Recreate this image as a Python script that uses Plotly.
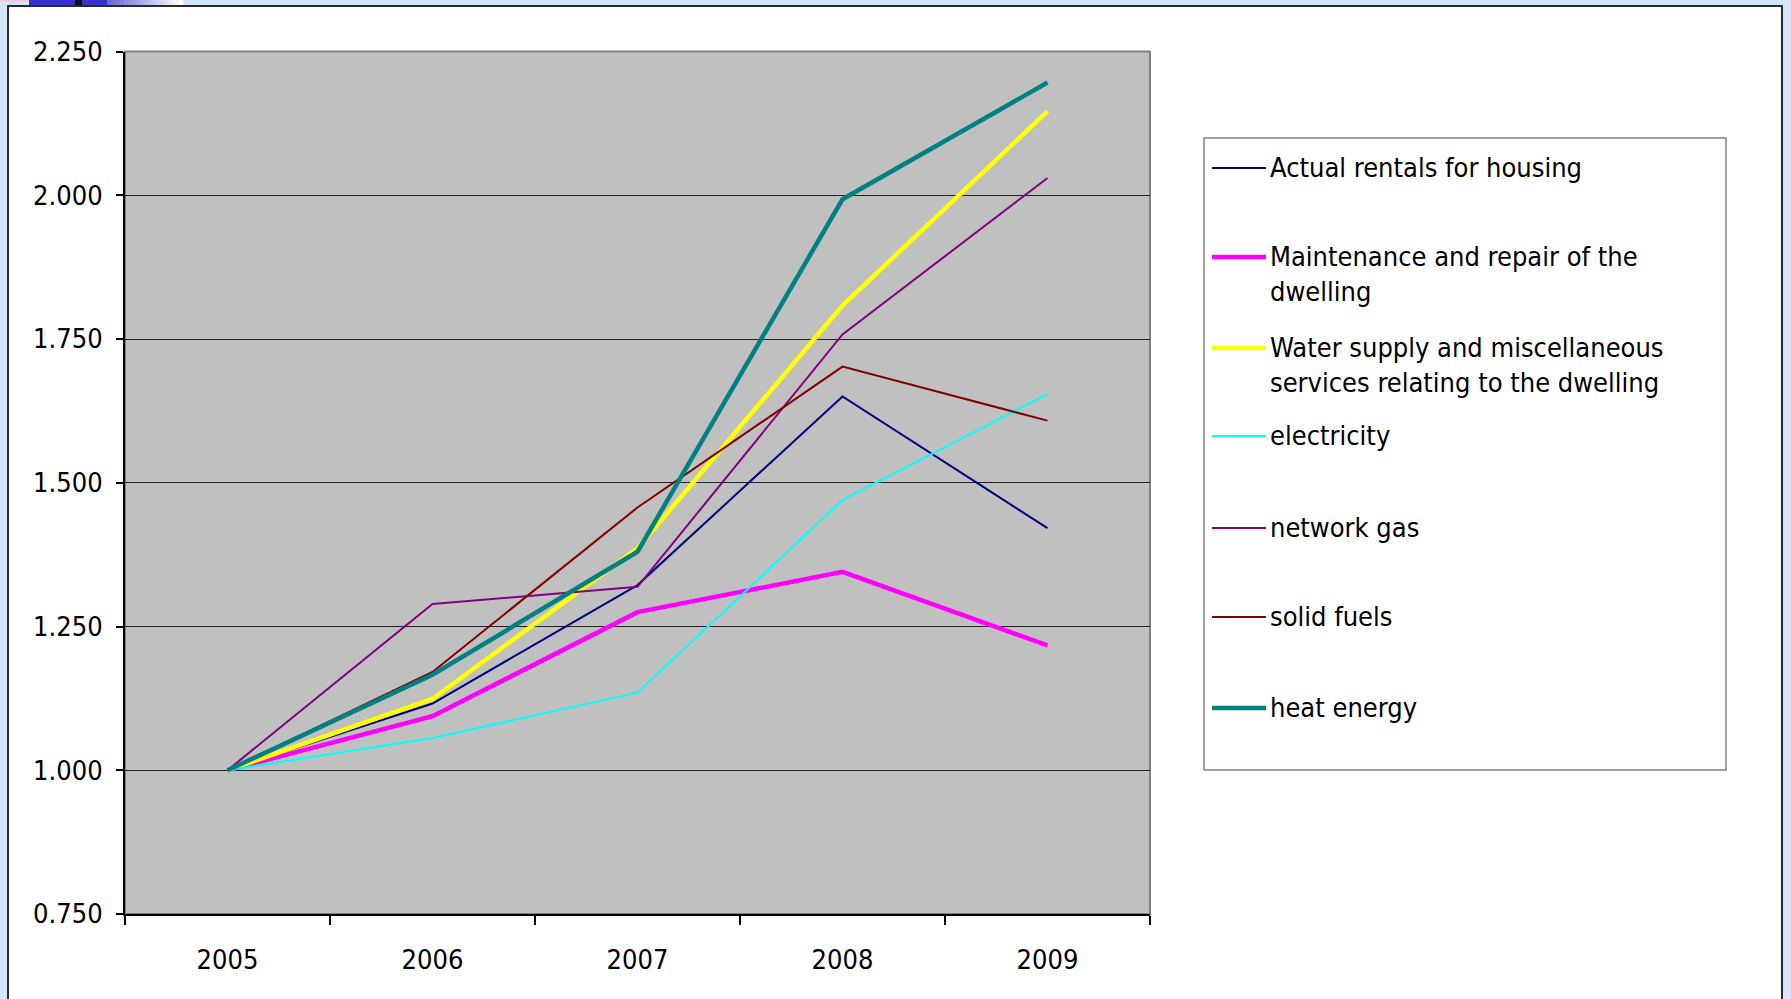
import plotly.graph_objects as go

W, H = 1791, 999

# ---- data -------------------------------------------------------------
years = ["2005", "2006", "2007", "2008", "2009"]

actual_rentals = [1.000, 1.116, 1.322, 1.650, 1.421]
maintenance_repair = [1.000, 1.094, 1.275, 1.345, 1.217]
water_supply = [1.000, 1.124, 1.386, 1.808, 2.146]
electricity = [1.000, 1.056, 1.135, 1.470, 1.654]
network_gas = [1.000, 1.289, 1.319, 1.758, 2.030]
solid_fuels = [1.000, 1.171, 1.457, 1.702, 1.608]
heat_energy = [1.000, 1.166, 1.380, 1.993, 2.196]

series_names = [
    "Actual rentals for housing",
    "Maintenance and repair of the<br>dwelling",
    "Water supply and miscellaneous<br>services relating to the dwelling",
    "electricity",
    "network gas",
    "solid fuels",
    "heat energy",
]
series_values = [actual_rentals, maintenance_repair, water_supply,
                 electricity, network_gas, solid_fuels, heat_energy]

y_tick_values = [0.75, 1.00, 1.25, 1.50, 1.75, 2.00, 2.25]
y_tick_labels = ["0.750", "1.000", "1.250", "1.500", "1.750", "2.000", "2.250"]

# ---- styling ----------------------------------------------------------
colors = ["#000080", "#FF00FF", "#FFFF00", "#00FFFF", "#800080", "#800000", "#008080"]
widths = [2, 4.5, 4.5, 2, 2, 2, 4.5]
FONT = "Tahoma, 'DejaVu Sans Condensed', 'DejaVu Sans', sans-serif"
FS = 27


def px(x):
    return x / W


def py(y):
    return 1 - y / H


# plot area in pixels
PL, PR, PT, PB = 125, 1150, 51.5, 914

fig = go.Figure()
for name, vals, col, w in zip(series_names, series_values, colors, widths):
    fig.add_trace(go.Scatter(
        x=years, y=vals, mode="lines", name=name.replace("<br>", " "),
        line=dict(color=col, width=w), showlegend=False,
    ))

shapes = []
# slide background strip decoration at top left
shapes.append(dict(type="rect", xref="paper", yref="paper",
                   x0=px(0), x1=px(60), y0=py(1.5), y1=py(0),
                   fillcolor="#f4c6d0", line=dict(width=0), layer="below"))
steps = 24
for i in range(steps):
    t = i / (steps - 1)
    r = int(0x33 + (0xff - 0x33) * t)
    g = int(0x33 + (0xff - 0x33) * t)
    b = int(0xcc + (0xff - 0xcc) * t)
    x0 = 82 + (183 - 82) * i / steps
    x1 = 82 + (183 - 82) * (i + 1) / steps
    if i < 6:
        r, g, b = 0x33, 0x33, 0xcc
    shapes.append(dict(type="rect", xref="paper", yref="paper",
                       x0=px(x0), x1=px(x1 + 0.5), y0=py(5), y1=py(0),
                       fillcolor=f"rgb({r},{g},{b})", line=dict(width=0), layer="below"))
shapes.append(dict(type="rect", xref="paper", yref="paper",
                   x0=px(29), x1=px(75), y0=py(5), y1=py(0),
                   fillcolor="#3333cc", line=dict(width=0), layer="below"))
shapes.append(dict(type="rect", xref="paper", yref="paper",
                   x0=px(75), x1=px(82), y0=py(5), y1=py(0),
                   fillcolor="#111111", line=dict(width=0), layer="below"))

# white chart frame
shapes.append(dict(type="rect", xref="paper", yref="paper",
                   x0=px(8), x1=px(1782), y0=py(1010), y1=py(6),
                   fillcolor="#FFFFFF", line=dict(color="#2a2a2a", width=2), layer="below"))
# grey plot area
shapes.append(dict(type="rect", xref="paper", yref="paper",
                   x0=px(PL), x1=px(PR), y0=py(PB), y1=py(PT),
                   fillcolor="#C0C0C0", line=dict(color="#808080", width=2), layer="below"))

# legend box
LX0, LX1, LY0, LY1 = 1204, 1726, 138, 770
shapes.append(dict(type="rect", xref="paper", yref="paper",
                   x0=px(LX0), x1=px(LX1), y0=py(LY1), y1=py(LY0),
                   fillcolor="#FFFFFF", line=dict(color="#808080", width=1.5), layer="below"))

legend_rows = [168, 257, 348, 436, 528, 617, 708]
annotations = []
for name, col, w, yrow in zip(series_names, colors, widths, legend_rows):
    shapes.append(dict(type="line", xref="paper", yref="paper",
                       x0=px(1212), x1=px(1266), y0=py(yrow), y1=py(yrow),
                       line=dict(color=col, width=w)))
    annotations.append(dict(
        xref="paper", yref="paper", x=px(1268), y=py(yrow - 18),
        xanchor="left", yanchor="top", align="left", showarrow=False,
        text=name, font=dict(family=FONT, size=FS, color="#000000"),
    ))

fig.update_layout(
    width=W, height=H,
    margin=dict(l=0, r=0, t=0, b=0, pad=0, autoexpand=False),
    paper_bgcolor="#D3E6FB",
    plot_bgcolor="rgba(0,0,0,0)",
    shapes=shapes,
    annotations=annotations,
    showlegend=False,
    xaxis=dict(
        domain=[px(PL), px(PR)],
        automargin=False,
        type="category", range=[-0.5, 4.5],
        tickson="boundaries", ticks="outside", ticklen=9, tickcolor="#000000",
        tickwidth=1.5,
        showline=True, linecolor="#000000", linewidth=2,
        showgrid=False, zeroline=False,
        tickfont=dict(family=FONT, size=FS, color="#000000"),
        ticklabelstandoff=21,
    ),
    yaxis=dict(
        domain=[py(PB), py(PT)],
        automargin=False,
        range=[0.75, 2.25],
        tickvals=y_tick_values, ticktext=y_tick_labels,
        ticks="outside", ticklen=7, tickcolor="#000000", tickwidth=1.5,
        showline=True, linecolor="#000000", linewidth=2,
        showgrid=True, gridcolor="#222222", gridwidth=1,
        zeroline=False,
        tickfont=dict(family=FONT, size=FS, color="#000000"),
        ticklabelstandoff=8,
    ),
)

fig.write_html("out.html")
